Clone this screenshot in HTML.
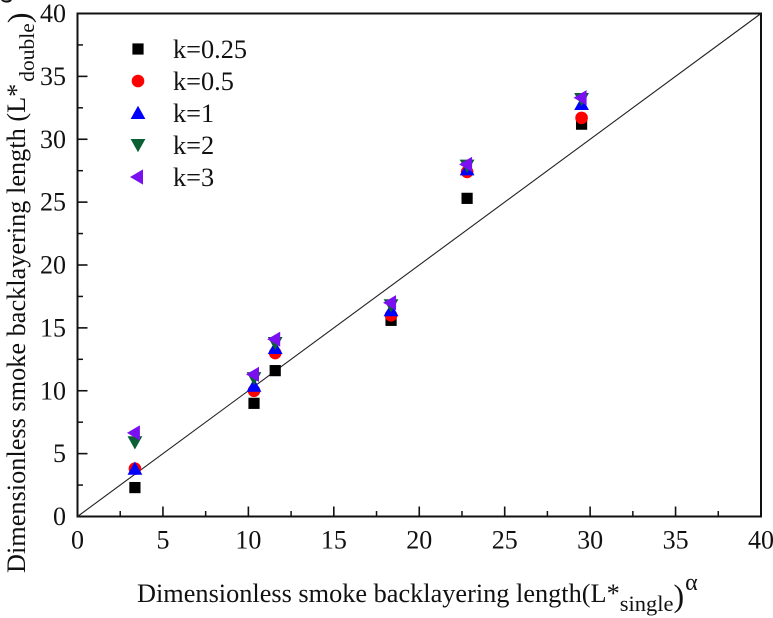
<!DOCTYPE html>
<html>
<head>
<meta charset="utf-8">
<title>Dimensionless smoke backlayering length</title>
<style>
html,body{margin:0;padding:0;background:#fff;}
svg{display:block;font-family:"Liberation Serif",serif;}
</style>
</head>
<body>
<svg id="chart" width="773" height="618" viewBox="0 0 773 618" xmlns="http://www.w3.org/2000/svg">
  <rect x="77.5" y="13.5" width="683.5" height="503" fill="none" stroke="#111" stroke-width="2"></rect>
  <g id="ticks"></g>
  <line id="ref" stroke="#222" stroke-width="1.1"></line>
  <g id="marks"></g>
  <g id="legend"></g>
  <text x="137" y="602" font-size="26.3" fill="#111">Dimensionless smoke backlayering length(L*<tspan dy="9" font-size="22.5">single</tspan><tspan dy="-4.5" font-size="32">)</tspan><tspan dx="1" dy="-16.5" font-size="24">&#945;</tspan></text>
  <text transform="translate(25,573) rotate(-90)" font-size="26.3" fill="#111">Dimensionless smoke backlayering length (L*<tspan dx="2" dy="9" font-size="21.5">double</tspan><tspan dy="-4.5" font-size="32">)</tspan><tspan dx="9" dy="-17.5" font-size="24">&#945;</tspan></text>
</svg>
<script>
var xTickLabels = [0, 5, 10, 15, 20, 25, 30, 35, 40];
var yTickLabels = [0, 5, 10, 15, 20, 25, 30, 35, 40];
var minorTicks = [2.5, 7.5, 12.5, 17.5, 22.5, 27.5, 32.5, 37.5];
var refLine = [0, 40];
var singleValues = [3.36, 10.33, 11.57, 18.35, 22.8, 29.5];
var k025 = [2.3, 9.0, 11.6, 15.6, 25.3, 31.2];
var k05 = [3.8, 10.0, 13.0, 16.0, 27.4, 31.7];
var k1 = [3.8, 10.4, 13.4, 16.4, 27.6, 32.8];
var k2 = [5.9, 11.0, 13.8, 16.8, 27.9, 33.2];
var k3 = [6.65, 11.3, 14.1, 17.0, 28.0, 33.3];
var seriesNames = ["k=0.25", "k=0.5", "k=1", "k=2", "k=3"];
var seriesValues = [k025, k05, k1, k2, k3];

var NS = "http://www.w3.org/2000/svg";
var X0 = 77.5, X1 = 761, Y0 = 516.5, Y1 = 13.5;
function sx(v){ return X0 + (v / 40) * (X1 - X0); }
function sy(v){ return Y0 - (v / 40) * (Y0 - Y1); }
function make(tag, attrs, parent){
  var e = document.createElementNS(NS, tag);
  for (var k in attrs) e.setAttribute(k, attrs[k]);
  parent.appendChild(e);
  return e;
}
var colors = ["#000000", "#ff0000", "#0000ff", "#0b5f35", "#7a10f0"];
var kinds = ["square", "circle", "up", "down", "left"];
function marker(kind, x, y, color, parent){
  var e;
  if (kind === "square") {
    e = make("rect", {x: x - 5.6, y: y - 5.6, width: 11.2, height: 11.2, fill: color}, parent);
  } else if (kind === "circle") {
    e = make("circle", {cx: x, cy: y, r: 6.3, fill: color}, parent);
  } else if (kind === "up") {
    e = make("polygon", {points: (x-7.4)+","+(y+6)+" "+(x+7.4)+","+(y+6)+" "+x+","+(y-7.2), fill: color}, parent);
  } else if (kind === "down") {
    e = make("polygon", {points: (x-7.4)+","+(y-6)+" "+(x+7.4)+","+(y-6)+" "+x+","+(y+7.2), fill: color}, parent);
  } else {
    e = make("polygon", {points: (x+5)+","+(y-7.6)+" "+(x+5)+","+(y+7.6)+" "+(x-8)+","+y, fill: color}, parent);
  }
  return e;
}

var ticks = document.getElementById("ticks");
xTickLabels.forEach(function(v){
  var x = sx(v);
  if (v > 0 && v < 40) {
    var t = make("line", {x1: x, x2: x, y1: Y0, y2: Y0 - 10, stroke: "#111", "stroke-width": 1.6}, ticks);
    
    
  }
  var l = make("text", {x: x, y: 548.5, "text-anchor": "middle", "font-size": 26, fill: "#111"}, ticks);
  
  
  l.textContent = v;
});
yTickLabels.forEach(function(v){
  var y = sy(v);
  if (v > 0 && v < 40) {
    var t = make("line", {x1: X0, x2: X0 + 10, y1: y, y2: y, stroke: "#111", "stroke-width": 1.6}, ticks);
    
    
  }
  var l = make("text", {x: 66, y: y + 8.5, "text-anchor": "end", "font-size": 26, fill: "#111"}, ticks);
  
  
  l.textContent = v;
});
minorTicks.forEach(function(v){
  var a = make("line", {x1: sx(v), x2: sx(v), y1: Y0, y2: Y0 - 5.5, stroke: "#111", "stroke-width": 1.5}, ticks);
  
  
  var b = make("line", {x1: X0, x2: X0 + 5.5, y1: sy(v), y2: sy(v), stroke: "#111", "stroke-width": 1.5}, ticks);
  
  
});

var ref = document.getElementById("ref");
ref.setAttribute("x1", sx(refLine[0]));
ref.setAttribute("y1", sy(refLine[0]));
ref.setAttribute("x2", sx(refLine[1]));
ref.setAttribute("y2", sy(refLine[1]));

var marks = document.getElementById("marks");
seriesValues.forEach(function(vals, s){
  vals.forEach(function(v, i){
    var m = marker(kinds[s], sx(singleValues[i]), sy(v), colors[s], marks);
    
    
  });
});

var legend = document.getElementById("legend");
seriesNames.forEach(function(name, s){
  var y = 49 + s * 32;
  var m = marker(kinds[s], 138, y, colors[s], legend);
  
  
  var t = make("text", {x: 173, y: y + 9, "font-size": 26.3, fill: "#111"}, legend);
  
  
  t.textContent = name;
});
</script>
</body>
</html>
